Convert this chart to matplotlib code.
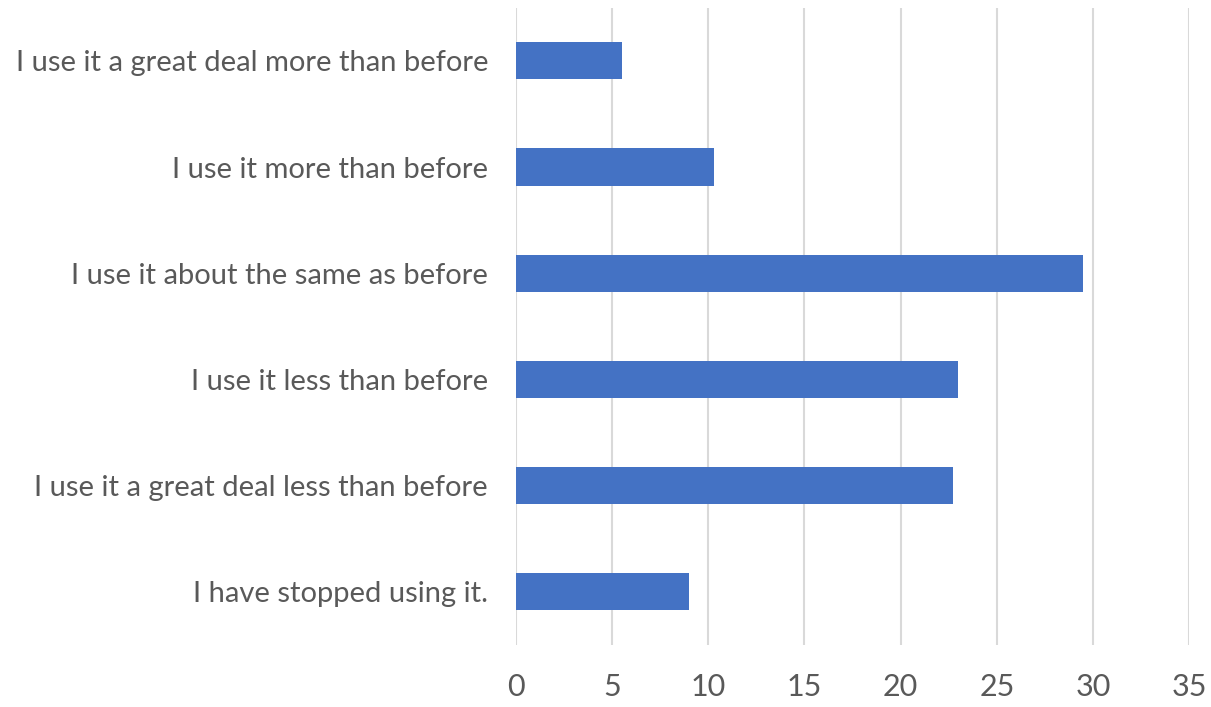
import numpy as np
import matplotlib.pyplot as plt

# Survey answers, bottom to top as drawn
answers = [
    'I have stopped using it.',
    'I use it a great deal less than before',
    'I use it less than before',
    'I use it about the same as before',
    'I use it more than before',
    'I use it a great deal more than before',
]
counts = [9.0, 22.7, 23.0, 29.5, 10.3, 5.5]
xticks = [0, 5, 10, 15, 20, 25, 30, 35]

plt.rcParams['font.family'] = ['Lato', 'DejaVu Sans']

fig = plt.figure(figsize=(12.11, 7.07), dpi=100)
ax = fig.add_axes([0.426, 0.088, 0.556, 0.901])

y = np.arange(len(answers))
ax.barh(y, counts, height=0.35, color='#4472C4', zorder=3)

ax.set_xlim(0, 35)
ax.set_ylim(-0.5, len(answers) - 0.5)
ax.set_xticks(xticks)
ax.set_yticks(y)
ax.set_yticklabels(answers)

ax.grid(axis='x', color='#D9D9D9', linewidth=1.5, zorder=0)
for s in ax.spines.values():
    s.set_visible(False)

ax.tick_params(axis='y', length=0, pad=20, labelsize=21, labelcolor='#595959')
ax.tick_params(axis='x', length=0, pad=20, labelsize=22, labelcolor='#595959')

fig.savefig('out.png', dpi=100)
